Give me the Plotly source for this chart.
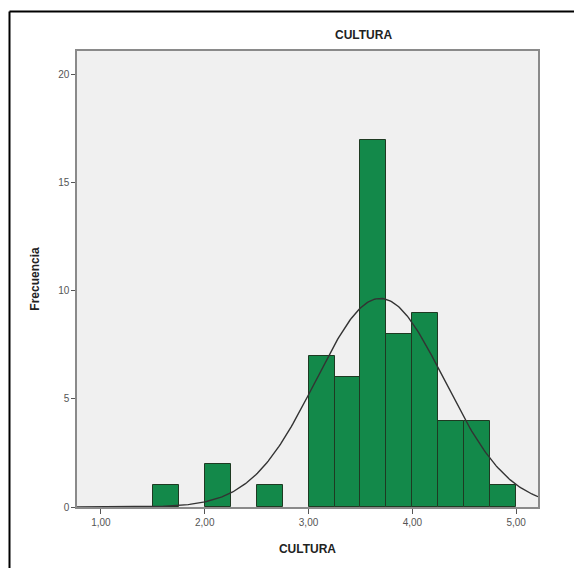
import numpy as np
import plotly.graph_objects as go

# Histogram data (bin starts, width 0.25)
bin_starts = [1.50, 2.00, 2.50, 3.00, 3.25, 3.50, 3.75, 4.00, 4.25, 4.50, 4.75]
counts = [1, 2, 1, 7, 6, 17, 8, 9, 4, 4, 1]
bin_width = 0.25

# Normal curve parameters
curve_mean = 3.69
curve_sd = 0.62
n_total = sum(counts)

x_tick_vals = [1, 2, 3, 4, 5]
x_tick_text = ["1,00", "2,00", "3,00", "4,00", "5,00"]
y_tick_vals = [0, 5, 10, 15, 20]

centers = [b + bin_width / 2 for b in bin_starts]

xs = np.linspace(0.77, 5.21, 300)
ys = n_total * bin_width / (curve_sd * np.sqrt(2 * np.pi)) * np.exp(-0.5 * ((xs - curve_mean) / curve_sd) ** 2)

fig = go.Figure()
fig.add_trace(go.Bar(
    x=centers, y=counts, width=bin_width,
    marker=dict(color="#13894A", line=dict(color="#1E3A22", width=1)),
    showlegend=False, hoverinfo="x+y",
))
fig.add_trace(go.Scatter(
    x=xs, y=ys, mode="lines",
    line=dict(color="#333333", width=1.4),
    showlegend=False, hoverinfo="skip",
))

# page body has an 8px margin; figure fills the rest of the window
OFF = 8
W, H = 582 - OFF, 568 - OFF
L, R, T, B = 77 - OFF, 44, 51 - OFF, 61
pw = W - L - R
ph = H - T - B

def px_x(px):
    return (px - OFF - L) / pw

def px_y(py):
    return (H - B - (py - OFF)) / ph

fig.update_layout(
    width=W, height=H,
    margin=dict(l=L, r=R, t=T, b=B, pad=0),
    paper_bgcolor="white",
    plot_bgcolor="#F0F0F0",
    font=dict(family="Arial, Liberation Sans, sans-serif", color="#555555", size=10),
    bargap=0,
    xaxis=dict(
        range=[0.77, 5.21], tickvals=x_tick_vals, ticktext=x_tick_text,
        ticks="outside", ticklen=5, tickcolor="#555555", tickwidth=1,
        showline=True, linecolor="#8A8A8A", linewidth=1.5, mirror=True,
        showgrid=False, zeroline=False,
        tickfont=dict(size=10, color="#555555"),
        title=dict(text="<b>CULTURA</b>", font=dict(size=12, color="#222222"), standoff=18),
    ),
    yaxis=dict(
        range=[0, 21.1], tickvals=y_tick_vals,
        ticks="outside", ticklen=4, tickcolor="#555555", tickwidth=1,
        showline=True, linecolor="#8A8A8A", linewidth=1.5, mirror=True,
        showgrid=False, zeroline=False,
        tickfont=dict(size=10, color="#555555"),
        title=dict(text="<b>Frecuencia</b>", font=dict(size=12, color="#222222"), standoff=16),
    ),
    shapes=[
        dict(type="line", xref="paper", yref="paper",
             x0=px_x(9.5), y0=px_y(11.5), x1=px_x(582), y1=px_y(11.5),
             line=dict(color="black", width=2), layer="above"),
        dict(type="line", xref="paper", yref="paper",
             x0=px_x(9.5), y0=px_y(11.5), x1=px_x(9.5), y1=px_y(568),
             line=dict(color="black", width=2), layer="above"),
    ],
    annotations=[
        dict(text="<b>CULTURA</b>", xref="paper", yref="paper",
             x=px_x(363), y=px_y(35), showarrow=False,
             font=dict(size=12, color="#222222"), xanchor="center", yanchor="middle"),
    ],
)

fig.write_html("out.html")
